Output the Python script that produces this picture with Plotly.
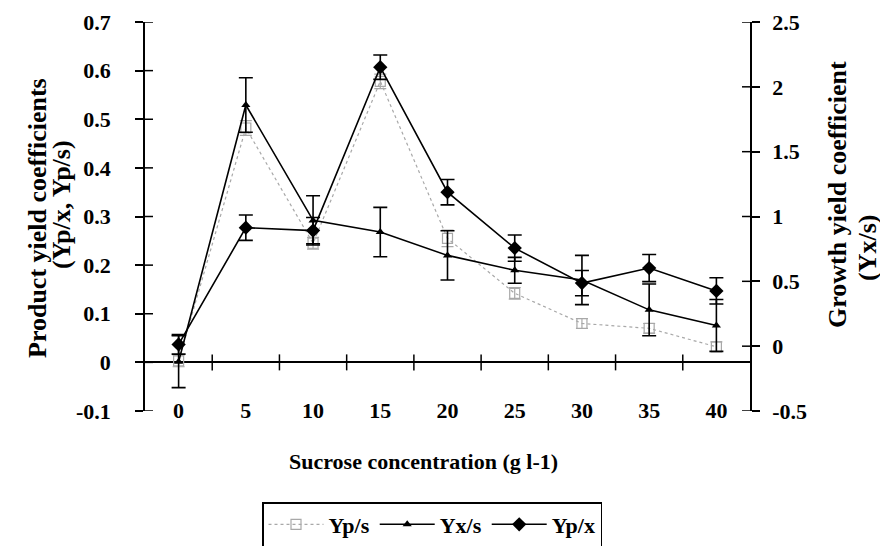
import plotly.graph_objects as go

# ---- data ----
conc = [0, 5, 10, 15, 20, 25, 30, 35, 40]
conc_labels = ["0", "5", "10", "15", "20", "25", "30", "35", "40"]

yps = [0.003, 0.482, 0.245, 0.578, 0.255, 0.142, 0.080, 0.070, 0.032]
yps_err = [0.012, 0.015, 0.012, 0.015, 0.017, 0.012, 0.010, 0.010, 0.010]

yxs = [-0.12, 1.86, 0.97, 0.88, 0.70, 0.585, 0.51, 0.28, 0.16]
yxs_err = [0.20, 0.21, 0.19, 0.19, 0.19, 0.10, 0.19, 0.20, 0.20]

ypx = [0.037, 0.277, 0.271, 0.607, 0.350, 0.235, 0.163, 0.194, 0.147]
ypx_err = [0.020, 0.026, 0.027, 0.025, 0.026, 0.027, 0.026, 0.028, 0.027]

left_ticks = [-0.1, 0, 0.1, 0.2, 0.3, 0.4, 0.5, 0.6, 0.7]
left_labels = ["-0.1", "0", "0.1", "0.2", "0.3", "0.4", "0.5", "0.6", "0.7"]
right_ticks = [-0.5, 0, 0.5, 1, 1.5, 2, 2.5]
right_labels = ["-0.5", "0", "0.5", "1", "1.5", "2", "2.5"]
x_boundaries = [2.5, 7.5, 12.5, 17.5, 22.5, 27.5, 32.5, 37.5]

FONT = "Liberation Serif"
GRAY = "#a8a8a8"

fig = go.Figure()

fig.add_trace(go.Scatter(
    x=conc, y=yps, name="Yp/s", mode="lines+markers",
    line=dict(color=GRAY, width=1.2, dash="dot"),
    marker=dict(symbol="square-open", size=10, color=GRAY, line=dict(width=1.2, color=GRAY)),
    error_y=dict(type="data", array=yps_err, color=GRAY, thickness=1.2, width=6),
    yaxis="y",
))
fig.add_trace(go.Scatter(
    x=conc, y=yxs, name="Yx/s", mode="lines+markers",
    line=dict(color="black", width=1.6),
    marker=dict(symbol="triangle-up", size=8, color="black"),
    error_y=dict(type="data", array=yxs_err, color="black", thickness=1.6, width=7),
    yaxis="y2",
))
fig.add_trace(go.Scatter(
    x=conc, y=ypx, name="Yp/x", mode="lines+markers",
    line=dict(color="black", width=1.6),
    marker=dict(symbol="diamond", size=11, color="black"),
    error_y=dict(type="data", array=ypx_err, color="black", thickness=1.6, width=7),
    yaxis="y",
))

tickfont = dict(family=FONT, size=22, color="black", weight="bold")

# page has an 8px body margin: figure 880x538 fills the 888x546 window
fig.update_layout(
    width=880, height=538,
    margin=dict(l=137, r=138, t=14, b=135, autoexpand=False),
    paper_bgcolor="white", plot_bgcolor="white",
    showlegend=True,
    xaxis=dict(range=[-2.5, 42.5], tickvals=conc, ticktext=conc_labels, ticks="",
               showline=False, showgrid=False, zeroline=False, tickfont=tickfont,
               ticklabelstandoff=-16, automargin=False),
    yaxis=dict(range=[-0.1, 0.7], tickvals=left_ticks, ticktext=left_labels,
               ticks="outside", ticklen=8, tickwidth=1.5, tickcolor="black",
               showline=True, linecolor="black", linewidth=1.5, showgrid=False,
               zeroline=True, zerolinecolor="black", zerolinewidth=1.5,
               tickfont=tickfont, ticklabelstandoff=20, automargin=False),
    yaxis2=dict(range=[-0.5, 2.5], tickvals=right_ticks, ticktext=right_labels,
                overlaying="y", side="right", anchor="x", showline=True,
                linecolor="black", linewidth=1.5, ticks="outside", ticklen=8,
                tickwidth=1.5, tickcolor="black", showgrid=False, zeroline=False,
                tickfont=tickfont, ticklabelstandoff=8, automargin=False),
    legend=dict(orientation="h", x=(262 - 145) / 605, xanchor="left",
                y=(411 - 502) / 389, yanchor="top", bordercolor="black", borderwidth=1.5,
                font=dict(family=FONT, size=22, color="black", weight="bold"),
                itemwidth=55, bgcolor="white"),
)

# inner halves of the crossing tick marks (axis decoration derived from tick lists)
tick_line = dict(color="black", width=1.5)
for v in left_ticks:
    fig.add_shape(type="line", xref="paper", xsizemode="pixel", xanchor=0, x0=0, x1=8,
                  yref="y", y0=v, y1=v, line=tick_line)
for v in right_ticks:
    fig.add_shape(type="line", xref="paper", xsizemode="pixel", xanchor=1, x0=-8, x1=0,
                  yref="y2", y0=v, y1=v, line=tick_line)
for b in x_boundaries:
    fig.add_shape(type="line", xref="x", x0=b, x1=b, yref="y", ysizemode="pixel",
                  yanchor=0, y0=-8, y1=8, line=tick_line)

def px_x(px):
    return (px - 145) / 605

def px_y(py):
    return (411 - py) / 389

title_font = dict(family=FONT, size=26, color="black", weight="bold")
ann = [
    dict(text="Sucrose concentration (g l-1)", x=px_x(423), y=px_y(461),
         font=dict(family=FONT, size=22, color="black", weight="bold"), textangle=0),
    dict(text="Product yield coefficients", x=px_x(37), y=px_y(218), font=title_font, textangle=-90),
    dict(text="(Yp/x, Yp/s)", x=px_x(61), y=px_y(205), font=title_font, textangle=-90),
    dict(text="Growth yield coefficient", x=px_x(838), y=px_y(195), font=title_font, textangle=-90),
    dict(text="(Yx/s)", x=px_x(867), y=px_y(248), font=title_font, textangle=-90),
]
for a in ann:
    fig.add_annotation(xref="paper", yref="paper", showarrow=False,
                       xanchor="center", yanchor="middle", **a)

fig.write_html("out.html")
